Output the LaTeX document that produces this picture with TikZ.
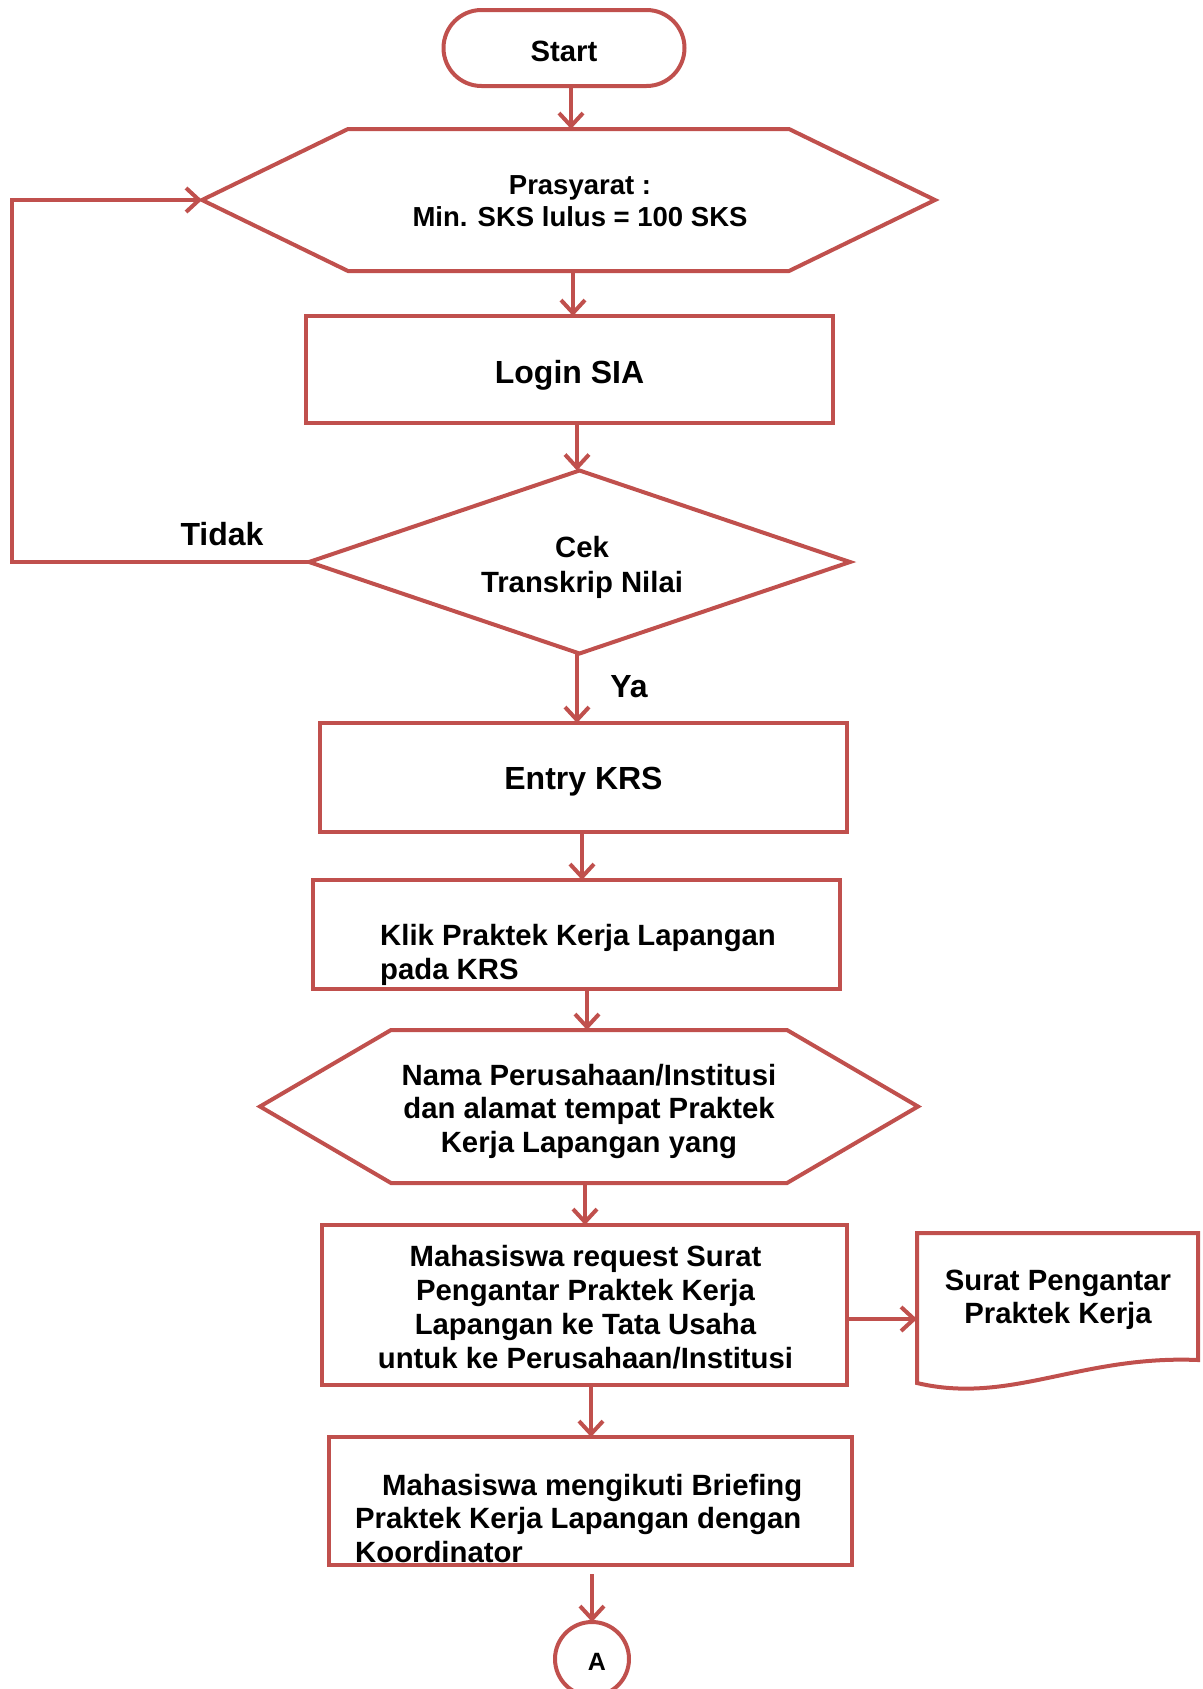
\documentclass[tikz,border=0pt]{standalone}
\usepackage{fontspec}
\setmainfont{Liberation Sans}
\usetikzlibrary{arrows.meta,calc}
\definecolor{acc}{RGB}{192,80,77}
\begin{document}
\begin{tikzpicture}[x=1pt,y=-1pt,
  ln/.style={draw=acc,line width=4pt},
  arr/.style={draw=acc,line width=4pt,-{Straight Barb[length=13pt,width=24pt]}},
  txt/.style={font=\fontsize{29.3}{33.5}\selectfont\bfseries,align=center,inner sep=0pt},
  big/.style={font=\fontsize{32}{36}\selectfont\bfseries,inner sep=0pt},
  hold/.style={rectangle,inner sep=0pt,outer sep=0pt},
  box/.style={draw=acc,line width=4pt,rectangle,inner sep=0pt,outer sep=0pt}]
\useasboundingbox (0,0) rectangle (1202,1689);
\clip (0,0) rectangle (1202,1689);

% start
\node[box,rounded corners=38pt,minimum width=241,minimum height=76] (start) at (564,48) {};
\node[txt] (startt) at (564,51) {Start};

% prasyarat hexagon
\node[hold,minimum width=733,minimum height=142] (p1) at (568.5,200) {};
\node[txt,font=\fontsize{27.5}{32}\selectfont\bfseries] (p1t) at (580,201.5) {Prasyarat :\\Min. SKS lulus = 100 SKS};
\draw[ln] (p1.west) -- ($(p1.north west)+(146,0)$) -- ($(p1.north east)+(-146,0)$) -- (p1.east) -- ($(p1.south east)+(-146,0)$) -- ($(p1.south west)+(146,0)$) -- cycle;

% login
\node[box,minimum width=527,minimum height=107] (login) at (569.5,369.5) {};
\node[big] (logint) at (569.5,375) {Login SIA};

% decision
\node[hold,minimum width=541,minimum height=183] (cek) at (579.5,562) {};
\node[txt] (cekt) at (582,567.5) {Cek\\[1pt]Transkrip Nilai};
\draw[ln] (cek.north) -- (cek.east) -- (cek.south) -- (cek.west) -- cycle;

% entry
\node[box,minimum width=527,minimum height=109] (entry) at (583.5,777.5) {};
\node[big] (entryt) at (583.5,782) {Entry KRS};

% klik
\node[txt,align=left,anchor=west] (klikt) at (380,955) {Klik Praktek Kerja Lapangan\\pada KRS};
\node[box,minimum width=527,minimum height=109] (klik) at (576.5,934.5) {};

% nama hexagon
\node[hold,minimum width=658,minimum height=153] (p2) at (589,1106.5) {};
\node[txt] (p2t) at (589,1111) {Nama Perusahaan/Institusi\\dan alamat tempat Praktek\\Kerja Lapangan yang};
\draw[ln] (p2.west) -- ($(p2.north west)+(131,0)$) -- ($(p2.north east)+(-131,0)$) -- (p2.east) -- ($(p2.south east)+(-131,0)$) -- ($(p2.south west)+(131,0)$) -- cycle;

% request
\node[box,minimum width=525,minimum height=160] (req) at (584.5,1305) {};
\node[txt,font=\fontsize{29.3}{33.8}\selectfont\bfseries] (reqt) at (585.5,1307) {Mahasiswa request Surat\\Pengantar Praktek Kerja\\Lapangan ke Tata Usaha\\untuk ke Perusahaan/Institusi};

% document
\node[hold,minimum width=281,minimum height=150] (doc) at (1057.5,1308) {};
\node[txt] (doct) at (1058,1300) {Surat Pengantar\\Praktek Kerja};
\draw[ln] (doc.south west) -- (doc.north west) -- (doc.north east) -- ($(doc.south east)+(0,-23)$) .. controls (1080,1355) and (1010,1405) .. (doc.south west) -- cycle;

% briefing
\node[txt,align=left,anchor=west] (brieft) at (355,1518.5) {\hspace*{27pt}Mahasiswa mengikuti Briefing\\Praktek Kerja Lapangan dengan\\Koordinator};
\node[box,minimum width=523,minimum height=128] (brief) at (590.5,1501) {};

% connector A
\node[box,circle,minimum size=74] (A) at (592,1659) {};
\node[font=\fontsize{25}{30}\selectfont\bfseries,inner sep=0pt] (At) at (597,1662) {A};

% connector columns
\coordinate (c1) at (571,0);
\coordinate (c2) at (573,0);
\coordinate (c3) at (577,0);
\coordinate (c4) at (577,0);
\coordinate (c5) at (582,0);
\coordinate (c6) at (587,0);
\coordinate (c7) at (585,0);
\coordinate (c8) at (591,0);
\coordinate (bA) at (592,1574);

% connectors
\draw[arr] (start.south -| c1) -- (p1.north -| c1);
\draw[arr] (p1.south -| c2) -- (login.north -| c2);
\draw[arr] (login.south -| c3) -- (cek.north -| c3);
\draw[arr] (cek.south -| c4) -- (entry.north -| c4);
\draw[arr] (entry.south -| c5) -- (klik.north -| c5);
\draw[arr] (klik.south -| c6) -- (p2.north -| c6);
\draw[arr] (p2.south -| c7) -- (req.north -| c7);
\draw[arr] (req.south -| c8) -- (brief.north -| c8);
\draw[arr] (bA) -- (A.north);
\coordinate (rq) at (847,1319);
\draw[arr] (rq) -- (rq -| doc.west);
\coordinate (lp) at (12,562);
\draw[arr] (cek.west) -- (lp) |- (p1.west);

% labels
\node[big] (tidak) at (222,534) {Tidak};
\node[big] (ya) at (629,687) {Ya};
\end{tikzpicture}
\end{document}
